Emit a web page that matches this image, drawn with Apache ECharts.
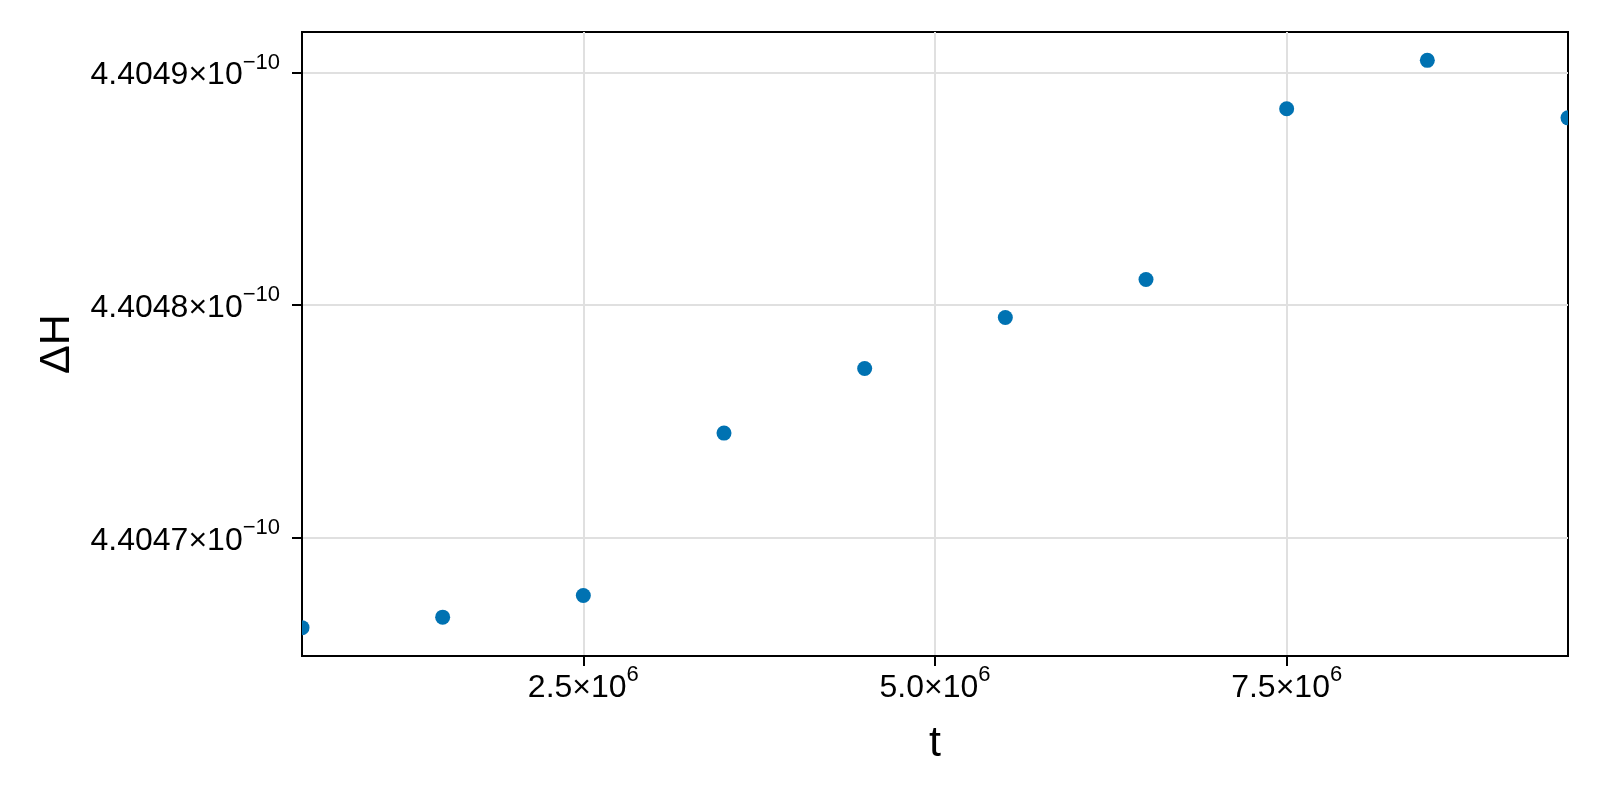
<!DOCTYPE html>
<html>
<head>
<meta charset="utf-8">
<script src="https://cdn.jsdelivr.net/npm/echarts@6/dist/echarts.min.js"></script>
<style>
html, body { margin: 0; padding: 0; background: #ffffff; }
#chart { width: 1600px; height: 800px; }
</style>
</head>
<body>
<div id="chart"></div>
<script>
// ---- data ----
const tValues  = [500000, 1500000, 2500000, 3500000, 4500000, 5500000, 6500000, 7500000, 8500000, 9500000];
const dHValues = [4.4046614e-10, 4.4046659e-10, 4.4046752e-10, 4.4047450e-10, 4.4047728e-10,
                  4.4047947e-10, 4.4048110e-10, 4.4048844e-10, 4.4049052e-10, 4.4048805e-10];

// axis ticks and labels
const xTickValues   = [2500000, 5000000, 7500000];
const xTickMantissa = ['2.5', '5.0', '7.5'];
const xTickExponent = '6';
const yTickValues   = [4.4047e-10, 4.4048e-10, 4.4049e-10];
const yTickMantissa = ['4.4047', '4.4048', '4.4049'];
const yTickExponent = '\u221210';

// axis ranges
const xRange = [500000, 9500000];
const yRange = [4.40464921e-10, 4.40491739e-10];
const yUnit = 1e-10;   // y values are handed to the library in units of 1e-10

const xLabel = 't';
const yLabel = '\u0394H';

// ---- build options ----
const ys = v => v / yUnit;
const seriesData = tValues.map((t, i) => [t, ys(dHValues[i])]);
const yTicksScaled = yTickValues.map(ys);

const FONT = "'Liberation Sans', Arial, Helvetica, sans-serif";
const richStyles = {
  b: { fontSize: 32, lineHeight: 32, fontFamily: FONT, color: '#000' },
  s: { fontSize: 22, lineHeight: 12, padding: [0, 0, 26, 0], fontFamily: FONT, color: '#000' }
};

function nearestIndex(arr, v) {
  let best = -1, bd = Infinity;
  arr.forEach((a, i) => { const d = Math.abs(a - v); if (d < bd) { bd = d; best = i; } });
  return best;
}

const chart = echarts.init(document.getElementById('chart'), null, { renderer: 'canvas' });
chart.setOption({
  backgroundColor: '#ffffff',
  animation: false,
  grid: {
    left: 302, right: 32, top: 32, bottom: 144,
    show: true, borderColor: '#000000', borderWidth: 2, backgroundColor: 'transparent',
    containLabel: false,
    outerBoundsMode: 'none'
  },
  xAxis: {
    type: 'value',
    min: xRange[0], max: xRange[1],
    name: xLabel,
    nameLocation: 'middle',
    nameGap: 67,
    nameTextStyle: { fontSize: 43, fontFamily: FONT, color: '#000' },
    axisLine: { show: true, onZero: false, lineStyle: { color: '#000', width: 2 } },
    axisTick: { show: true, inside: false, length: 10, lineStyle: { color: '#000', width: 2 }, customValues: xTickValues },
    axisLabel: {
      show: true, margin: 16, customValues: xTickValues,
      formatter: v => '{b|' + xTickMantissa[nearestIndex(xTickValues, v)] + '\u00d710}{s|' + xTickExponent + '}',
      rich: richStyles
    },
    splitLine: { show: true, lineStyle: { color: '#e0e0e0', width: 2 } }
  },
  yAxis: {
    type: 'value',
    min: ys(yRange[0]), max: ys(yRange[1]),
    name: yLabel,
    nameLocation: 'middle',
    nameGap: 223,
    nameRotate: 90,
    nameTextStyle: { fontSize: 43, fontFamily: FONT, color: '#000' },
    axisLine: { show: true, onZero: false, lineStyle: { color: '#000', width: 2 } },
    axisTick: { show: true, inside: false, length: 10, lineStyle: { color: '#000', width: 2 }, customValues: yTicksScaled },
    axisLabel: {
      show: true, margin: 22, customValues: yTicksScaled,
      padding: [6, 0, 0, 0],
      formatter: v => '{b|' + yTickMantissa[nearestIndex(yTicksScaled, v)] + '\u00d710}{s|' + yTickExponent + '}',
      rich: richStyles
    },
    splitLine: { show: true, lineStyle: { color: '#e0e0e0', width: 2 } }
  },
  series: [{
    type: 'custom',
    data: seriesData,
    encode: { x: 0, y: 1 },
    clip: true,
    renderItem: (params, api) => {
      const p = api.coord([api.value(0), api.value(1)]);
      return {
        type: 'circle',
        shape: { cx: p[0], cy: p[1], r: 7.5 },
        style: { fill: '#0072B2' }
      };
    }
  }]
});
</script>
</body>
</html>
